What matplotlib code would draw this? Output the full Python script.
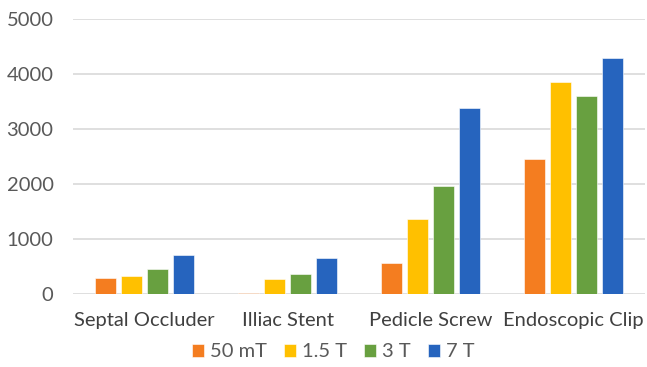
import numpy as np
import matplotlib.pyplot as plt

plt.rcParams['font.family'] = ['Lato', 'DejaVu Sans']

devices = ["Septal Occluder", "Illiac Stent", "Pedicle Screw", "Endoscopic Clip"]
fields = ["50 mT", "1.5 T", "3 T", "7 T"]
vals_50mT = [290, 10, 570, 2450]
vals_1_5T = [335, 265, 1365, 3860]
vals_3T = [455, 370, 1960, 3600]
vals_7T = [705, 650, 3390, 4305]
colors = ["#F47D20", "#FFC000", "#68A040", "#2664BE"]

series = [vals_50mT, vals_1_5T, vals_3T, vals_7T]

fig = plt.figure(figsize=(6.47, 3.67), dpi=100)
ax = fig.add_axes([73/647, 0.199, 572/647, 0.748])

x = np.arange(len(devices))
step = 0.182
width = 0.145
for i, (vals, name, c) in enumerate(zip(series, fields, colors)):
    ax.bar(x + (i - 1.5) * step, vals, width, color=c, label=name,
           edgecolor="white", linewidth=0.4, zorder=3)

ax.set_xlim(-0.5, 3.5)
ax.set_ylim(0, 5000)
ax.set_yticks(range(0, 5001, 1000))
ax.grid(axis="y", color="#D9D9D9", linewidth=1.2, zorder=0)
for s in ax.spines.values():
    s.set_visible(False)
ax.tick_params(length=0, labelsize=14.5, colors="#595959")
ax.tick_params(axis="y", pad=14)
ax.tick_params(axis="x", pad=13)
ax.set_xticks(x)
ax.set_xticklabels(devices, fontsize=14.5, color="#404040")

ax.legend(loc="center", bbox_to_anchor=(0.455, -0.211), ncol=4,
          frameon=False, fontsize=14.5, handlelength=0.6, handleheight=0.6,
          handletextpad=0.3, columnspacing=0.85, labelcolor="#595959",
          borderpad=0)

fig.savefig("out.png", dpi=100)
